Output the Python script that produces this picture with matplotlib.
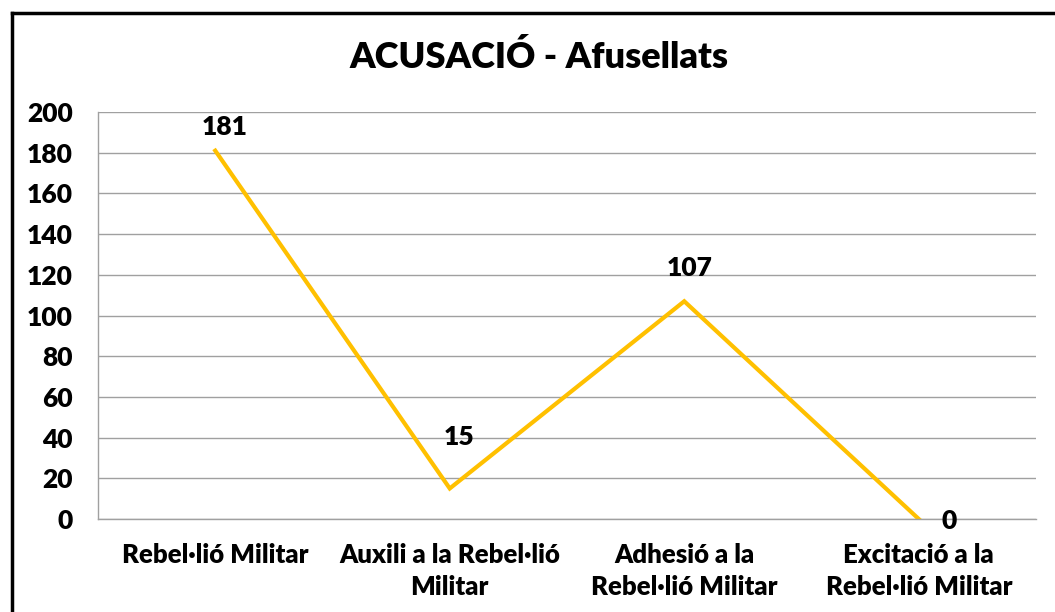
import matplotlib.pyplot as plt
from matplotlib.lines import Line2D

plt.rcParams["font.family"] = ["Lato", "DejaVu Sans"]
plt.rcParams["font.weight"] = "heavy"

categories = ["Rebel·lió Militar", "Auxili a la Rebel·lió\nMilitar",
              "Adhesió a la\nRebel·lió Militar", "Excitació a la\nRebel·lió Militar"]
values = [181, 15, 107, 0]
yticks = [0, 20, 40, 60, 80, 100, 120, 140, 160, 180, 200]
label_offsets = [(7, 17), (7, 37), (4, 24), (22, -1.5)]

W, H = 1055, 612
fig = plt.figure(figsize=(W / 100, H / 100), dpi=100)
ax = fig.add_axes([98 / W, 1 - 519 / H, 938 / W, 407 / H])

x = list(range(len(values)))
ax.plot(x, values, color="#FFC000", lw=3, solid_joinstyle="miter")
for xi, v, (dx, dy) in zip(x, values, label_offsets):
    ax.annotate(str(v), (xi, v), xytext=(dx, dy), textcoords="offset points",
                ha="center", va="center", fontsize=19, fontweight="heavy")

ax.set_xlim(-0.5, len(values) - 0.5)
ax.set_ylim(0, 200)
ax.set_yticks(yticks)
ax.set_yticklabels([str(t) for t in yticks], fontsize=19, fontweight="heavy")
ax.set_xticks(x)
ax.set_xticklabels(categories, fontsize=18.5, fontweight="heavy", linespacing=1.4)
ax.tick_params(length=0)
ax.tick_params(axis="y", pad=18)
ax.tick_params(axis="x", pad=17)
ax.grid(axis="y", color="#a0a0a0", lw=1)
ax.set_axisbelow(True)
for s in ["top", "right"]:
    ax.spines[s].set_visible(False)
for s in ["left", "bottom"]:
    ax.spines[s].set_color("#a0a0a0")
    ax.spines[s].set_linewidth(1)

fig.text(539 / W, 1 - 57 / H, "ACUSACIÓ - Afusellats", ha="center", va="center",
         fontsize=26, fontweight="heavy")

# outer chart border (only top and left edges visible)
fig.add_artist(Line2D([12 / W, 12 / W], [0, 1 - 13 / H], color="black", lw=2.5,
                      transform=fig.transFigure))
fig.add_artist(Line2D([12 / W, 1], [1 - 13 / H, 1 - 13 / H], color="black", lw=2.5,
                      transform=fig.transFigure))

fig.savefig("out.png", dpi=100)
